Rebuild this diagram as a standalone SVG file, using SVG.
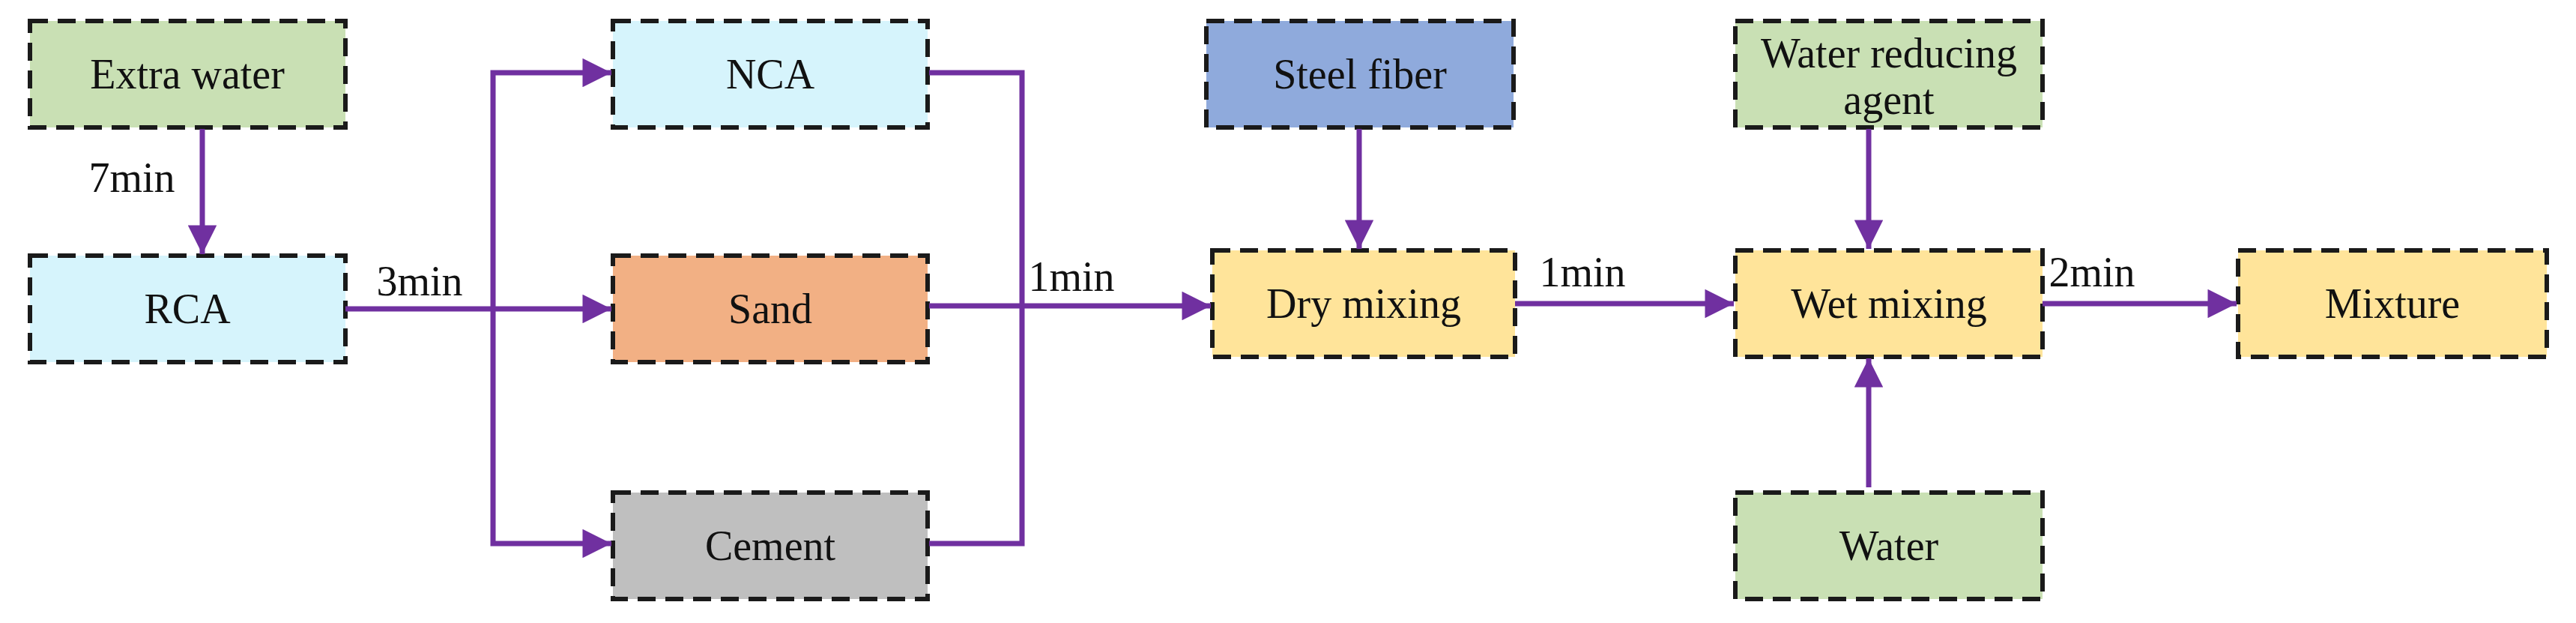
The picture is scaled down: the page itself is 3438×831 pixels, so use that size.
<svg xmlns="http://www.w3.org/2000/svg" width="3438" height="831" viewBox="0 0 3438 831">
<defs>
<marker id="ah" viewBox="0 0 10 10" refX="10" refY="5" markerWidth="6" markerHeight="5.5" markerUnits="strokeWidth" orient="auto"><path d="M0,0 L10,5 L0,10 z" fill="#7030A0"/></marker>
<style>
.b{stroke:#1a1a1a;stroke-width:6;stroke-dasharray:24 13}
.t{font-family:"Liberation Serif",serif;font-size:56px;fill:#111;text-anchor:middle}
.c{fill:none;stroke:#7030A0;stroke-width:7}
</style>
</defs>
<rect width="3438" height="831" fill="#fff"/>
<g id="extra-water"><rect class="b" x="40" y="28" width="421" height="142" fill="#C9E0B4"/><text class="t" x="250" y="118">Extra water</text></g>
<g id="rca"><rect class="b" x="40" y="341" width="421" height="142" fill="#D6F4FC"/><text class="t" x="250" y="431">RCA</text></g>
<g id="nca"><rect class="b" x="818" y="28" width="420" height="142" fill="#D6F4FC"/><text class="t" x="1028" y="118">NCA</text></g>
<g id="sand"><rect class="b" x="818" y="341" width="420" height="142" fill="#F2B084"/><text class="t" x="1028" y="431">Sand</text></g>
<g id="cement"><rect class="b" x="818" y="657" width="420" height="142" fill="#BFBFBF"/><text class="t" x="1028" y="747">Cement</text></g>
<g id="steel-fiber"><rect class="b" x="1610" y="28" width="410" height="142" fill="#8FAADC"/><text class="t" x="1815" y="118">Steel fiber</text></g>
<g id="dry-mixing"><rect class="b" x="1618" y="334" width="404" height="142" fill="#FFE49A"/><text class="t" x="1820" y="424">Dry mixing</text></g>
<g id="water-reducing"><rect class="b" x="2316" y="28" width="410" height="142" fill="#C9E0B4"/><text class="t" x="2521" y="90">Water reducing</text><text class="t" x="2521" y="152">agent</text></g>
<g id="wet-mixing"><rect class="b" x="2316" y="334" width="410" height="142" fill="#FFE49A"/><text class="t" x="2521" y="424">Wet mixing</text></g>
<g id="water"><rect class="b" x="2316" y="657" width="410" height="142" fill="#C9E0B4"/><text class="t" x="2521" y="747">Water</text></g>
<g id="mixture"><rect class="b" x="2987" y="334" width="412" height="142" fill="#FFE49A"/><text class="t" x="3193" y="424">Mixture</text></g>
<g id="connectors">
<path class="c" d="M270,172 V339" marker-end="url(#ah)"/>
<path class="c" d="M461,412 H816" marker-end="url(#ah)"/>
<path class="c" d="M658,412 V97 H816" marker-end="url(#ah)"/>
<path class="c" d="M658,412 V725 H816" marker-end="url(#ah)"/>
<path class="c" d="M1240,97 H1364 V725 H1240"/>
<path class="c" d="M1240,408 H1616" marker-end="url(#ah)"/>
<path class="c" d="M1814,172 V332" marker-end="url(#ah)"/>
<path class="c" d="M2022,405 H2314" marker-end="url(#ah)"/>
<path class="c" d="M2494,172 V332" marker-end="url(#ah)"/>
<path class="c" d="M2494,650 V478" marker-end="url(#ah)"/>
<path class="c" d="M2726,405 H2985" marker-end="url(#ah)"/>
<text class="t" x="176" y="256">7min</text>
<text class="t" x="560" y="394">3min</text>
<text class="t" x="1430" y="388">1min</text>
<text class="t" x="2112" y="382">1min</text>
<text class="t" x="2792" y="382">2min</text>
</g>
</svg>
